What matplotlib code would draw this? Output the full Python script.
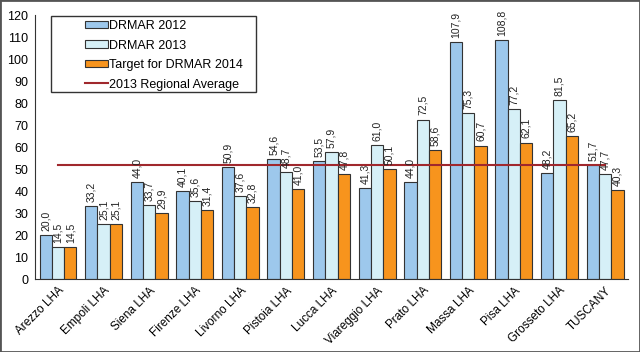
import matplotlib.pyplot as plt
import matplotlib.patches as mpatches
import numpy as np

plt.rcParams['font.family'] = ['Liberation Sans', 'DejaVu Sans']

categories = ['Arezzo LHA', 'Empoli LHA', 'Siena LHA', 'Firenze LHA', 'Livorno LHA',
              'Pistoia LHA', 'Lucca LHA', 'Viareggio LHA', 'Prato LHA', 'Massa LHA',
              'Pisa LHA', 'Grosseto LHA', 'TUSCANY']
drmar_2012 = [20.0, 33.2, 44.0, 40.1, 50.9, 54.6, 53.5, 41.3, 44.0, 107.9, 108.8, 48.2, 51.7]
drmar_2013 = [14.5, 25.1, 33.7, 35.6, 37.6, 48.7, 57.9, 61.0, 72.5, 75.3, 77.2, 81.5, 47.7]
target_2014 = [14.5, 25.1, 29.9, 31.4, 32.8, 41.0, 47.8, 50.1, 58.6, 60.7, 62.1, 65.2, 40.3]
regional_avg_2013 = 51.7

series = [('DRMAR 2012', drmar_2012, '#9dc8ec'),
          ('DRMAR 2013', drmar_2013, '#d6f0f7'),
          ('Target for DRMAR 2014', target_2014, '#f7941d')]

fig = plt.figure(figsize=(6.4, 3.52), dpi=100)
ax = fig.add_axes([0.055, 0.207, 0.926, 0.75])

x = np.arange(len(categories))
w = 0.27
handles = []
for i, (name, vals, col) in enumerate(series):
    pos = x + (i - 1) * w
    bars = ax.bar(pos, vals, w, color=col, edgecolor='#333333', linewidth=0.8, label=name)
    handles.append(bars)
    for p, v in zip(pos, vals):
        ax.annotate(f'{v:.1f}'.replace('.', ','), (p, v), xytext=(0, 3),
                    textcoords='offset points', rotation=90, ha='center', va='bottom',
                    fontsize=7.5, color='#222222')

line, = ax.plot([x[0], x[-1]], [regional_avg_2013] * 2, color='#a0282d', linewidth=1.5,
                label='2013 Regional Average')
handles.append(line)

ax.set_xlim(-0.5, len(categories) - 0.5)
ax.set_ylim(0, 120)
ax.set_yticks(range(0, 121, 10))
ax.set_xticks(x)
ax.set_xticklabels(categories, rotation=45, ha='right', rotation_mode='anchor', fontsize=8.5)
ax.tick_params(axis='y', length=0, labelsize=9, pad=5)
ax.tick_params(axis='x', length=0, pad=4)
for s in ['top', 'right']:
    ax.spines[s].set_visible(False)
ax.spines['left'].set_color('#333333')
ax.spines['bottom'].set_color('#333333')

# legend box drawn separately, entries placed inside it
fig.patches.append(mpatches.Rectangle((0.080, 0.739), 0.320, 0.216, transform=fig.transFigure,
                                      fill=True, facecolor='white', edgecolor='#333333',
                                      linewidth=1.0, zorder=5))
leg = fig.legend(handles, [h.get_label() for h in handles], loc='upper left',
                 bbox_to_anchor=(0.133, 0.943), fontsize=9, frameon=False,
                 handlelength=1.8, handleheight=0.55, borderpad=0, borderaxespad=0,
                 labelspacing=0.6, handletextpad=0.1)
leg.set_zorder(6)

fig.patches.append(mpatches.Rectangle((0, 0), 1, 1, transform=fig.transFigure,
                                      fill=False, edgecolor='#555555', linewidth=2))

fig.savefig('out.png', dpi=100)
